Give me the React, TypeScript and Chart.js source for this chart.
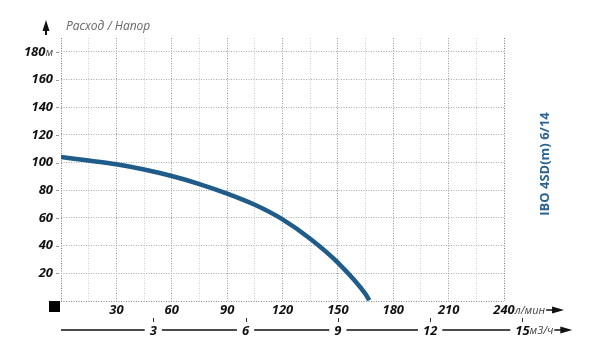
import React, { useEffect, useRef } from "react";
import { Chart, registerables } from "chart.js";

Chart.register(...registerables);

// Data
const flowLpm = [0, 15, 30, 45, 60, 75, 90, 105, 120, 135, 150, 165, 167];
const headM = [104, 101.5, 98.8, 95, 90.3, 84.5, 77.6, 69.5, 59, 45, 27.7, 5, 0.5];

const yTickLabels = [20, 40, 60, 80, 100, 120, 140, 160, 180];
const xTickLabelsLpm = [30, 60, 90, 120, 150, 180, 210, 240];
const xTickLabelsM3h = [3, 6, 9, 12, 15];

const title = "Расход / Напор";
const modelName = "IBO 4SD(m) 6/14";
const unitHead = "м";
const unitLpm = "л/мин";
const unitM3h = "м3/ч";

const FONT = "'Open Sans', 'DejaVu Sans', sans-serif";

function drawArrowRight(ctx: CanvasRenderingContext2D, x0: number, y: number) {
  ctx.save();
  ctx.strokeStyle = "#111";
  ctx.fillStyle = "#111";
  ctx.lineWidth = 1.5;
  ctx.beginPath();
  ctx.moveTo(x0, y);
  ctx.lineTo(x0 + 8, y);
  ctx.stroke();
  ctx.beginPath();
  ctx.moveTo(x0 + 6, y - 3.5);
  ctx.lineTo(x0 + 18, y);
  ctx.lineTo(x0 + 6, y + 3.5);
  ctx.closePath();
  ctx.fill();
  ctx.restore();
}

const textPlugin = {
  id: "textPlugin",
  afterDraw(chart: any) {
    const ctx: CanvasRenderingContext2D = chart.ctx;
    const xs = chart.scales.x;
    const ys = chart.scales.y;
    const x2 = chart.scales.x2;
    const left = xs.left;
    ctx.save();

    // Up arrow and title
    ctx.fillStyle = "#111";
    ctx.beginPath();
    ctx.moveTo(46, 20);
    ctx.lineTo(42.5, 31);
    ctx.lineTo(49.5, 31);
    ctx.closePath();
    ctx.fill();
    ctx.fillRect(45, 29, 2, 6);

    ctx.font = `italic 12px ${FONT}`;
    ctx.fillStyle = "#666";
    ctx.textBaseline = "middle";
    ctx.textAlign = "left";
    ctx.fillText(title, 66, 27);

    // Y labels
    const boldFont = `italic bold 13px ${FONT}`;
    const unitFont = `italic 11px ${FONT}`;
    const yRight = left - 8;
    yTickLabels.forEach((v, i) => {
      const py = ys.getPixelForValue(v);
      ctx.fillStyle = "#111";
      if (i === yTickLabels.length - 1) {
        ctx.font = unitFont;
        ctx.fillStyle = "#444";
        ctx.textAlign = "right";
        const uw = ctx.measureText(unitHead).width;
        ctx.fillText(unitHead, yRight, py + 1);
        ctx.font = boldFont;
        ctx.fillStyle = "#111";
        ctx.fillText(String(v), yRight - uw, py);
      } else {
        ctx.font = boldFont;
        ctx.textAlign = "right";
        ctx.fillText(String(v), yRight, py);
      }
      // small tick
      ctx.fillStyle = "#999";
      ctx.fillRect(left - 5, Math.round(py), 3, 1);
    });

    // Origin square
    ctx.fillStyle = "#000";
    ctx.fillRect(left - 12, ys.bottom, 11, 11);

    // Row 1: l/min
    const row1 = ys.bottom + 9;
    ctx.textAlign = "center";
    xTickLabelsLpm.forEach((v, i) => {
      const px = xs.getPixelForValue(v);
      ctx.font = boldFont;
      ctx.fillStyle = "#111";
      ctx.fillText(String(v), px, row1);
      if (i === xTickLabelsLpm.length - 1) {
        const hw = ctx.measureText(String(v)).width / 2;
        ctx.font = unitFont;
        ctx.fillStyle = "#444";
        ctx.textAlign = "left";
        ctx.fillText(unitLpm, px + hw, row1 + 1);
        const uw = ctx.measureText(unitLpm).width;
        drawArrowRight(ctx, px + hw + uw + 1, row1);
        ctx.textAlign = "center";
      }
    });

    // Row 2: m3/h
    const row2 = ys.bottom + 29;
    ctx.strokeStyle = "#111";
    ctx.lineWidth = 1.3;
    let segStart = left;
    xTickLabelsM3h.forEach((v, i) => {
      const px = x2.getPixelForValue(v);
      ctx.font = boldFont;
      const w = ctx.measureText(String(v)).width;
      ctx.beginPath();
      ctx.moveTo(segStart, row2);
      ctx.lineTo(px - w / 2 - 5, row2);
      ctx.stroke();
      segStart = px + w / 2 + 5;
      ctx.fillStyle = "#111";
      ctx.textAlign = "center";
      ctx.fillText(String(v), px, row2 + 1);
      ctx.fillStyle = "#333";
      ctx.fillRect(Math.round(px), row2 - 12, 1, 4);
      if (i === xTickLabelsM3h.length - 1) {
        ctx.font = unitFont;
        ctx.fillStyle = "#444";
        ctx.textAlign = "left";
        ctx.fillText(unitM3h, px + w / 2, row2 + 1);
        const uw = ctx.measureText(unitM3h).width;
        drawArrowRight(ctx, px + w / 2 + uw + 1, row2);
      }
    });

    // Rotated model name
    ctx.save();
    ctx.translate(545, 164);
    ctx.rotate(-Math.PI / 2);
    ctx.font = `bold 13px ${FONT}`;
    ctx.fillStyle = "#2b6291";
    ctx.textAlign = "center";
    ctx.textBaseline = "middle";
    ctx.fillText(modelName, 0, 0);
    ctx.restore();

    ctx.restore();
  },
};

export default function App() {
  const ref = useRef<HTMLCanvasElement | null>(null);

  useEffect(() => {
    if (!ref.current) return;
    const points = flowLpm.map((f, i) => ({ x: f, y: headM[i] }));
    const chart = new Chart(ref.current, {
      type: "line",
      data: {
        datasets: [
          {
            data: points,
            borderColor: "#1f5c89",
            borderWidth: 4.5,
            pointRadius: 0,
            cubicInterpolationMode: "monotone",
            fill: false,
          },
        ],
      },
      options: {
        animation: false,
        responsive: false,
        maintainAspectRatio: false,
        layout: { padding: { left: 61, right: 96, top: 38, bottom: 56 } },
        plugins: { legend: { display: false }, tooltip: { enabled: false }, title: { display: false } },
        scales: {
          x: {
            type: "linear",
            min: 0,
            max: 240,
            ticks: { display: false, stepSize: 15 },
            grid: {
              drawTicks: false,
              lineWidth: 1,
              color: (c: any) => {
                const v = c.tick ? c.tick.value : 0;
                if (v === 0 || v === 240) return "#777";
                return v % 30 === 0 ? "#9a9a9a" : "#cfcfcf";
              },
            },
            border: { display: false, dash: [1, 1.5] },
          },
          x2: {
            type: "linear",
            position: "bottom",
            min: 0,
            max: 14.4,
            ticks: { display: false },
            grid: { display: false, drawTicks: false },
            border: { display: false },
          },
          y: {
            type: "linear",
            min: 0,
            max: 190,
            ticks: { display: false, stepSize: 20 },
            grid: {
              drawTicks: false,
              lineWidth: 1,
              color: (c: any) => {
                const v = c.tick ? c.tick.value : 0;
                if (v > 180) return "rgba(0,0,0,0)";
                return v === 0 ? "#888" : "#a8a8a8";
              },
            },
            border: { display: false, dash: [1, 1.5] },
          },
        },
      },
      plugins: [textPlugin],
    });
    return () => chart.destroy();
  }, []);

  return (
    <div style={{ position: "fixed", left: 0, top: 0, width: 600, height: 357, background: "#fff" }}>
      <canvas ref={ref} width={600} height={357} style={{ width: 600, height: 357, display: "block" }} />
    </div>
  );
}
